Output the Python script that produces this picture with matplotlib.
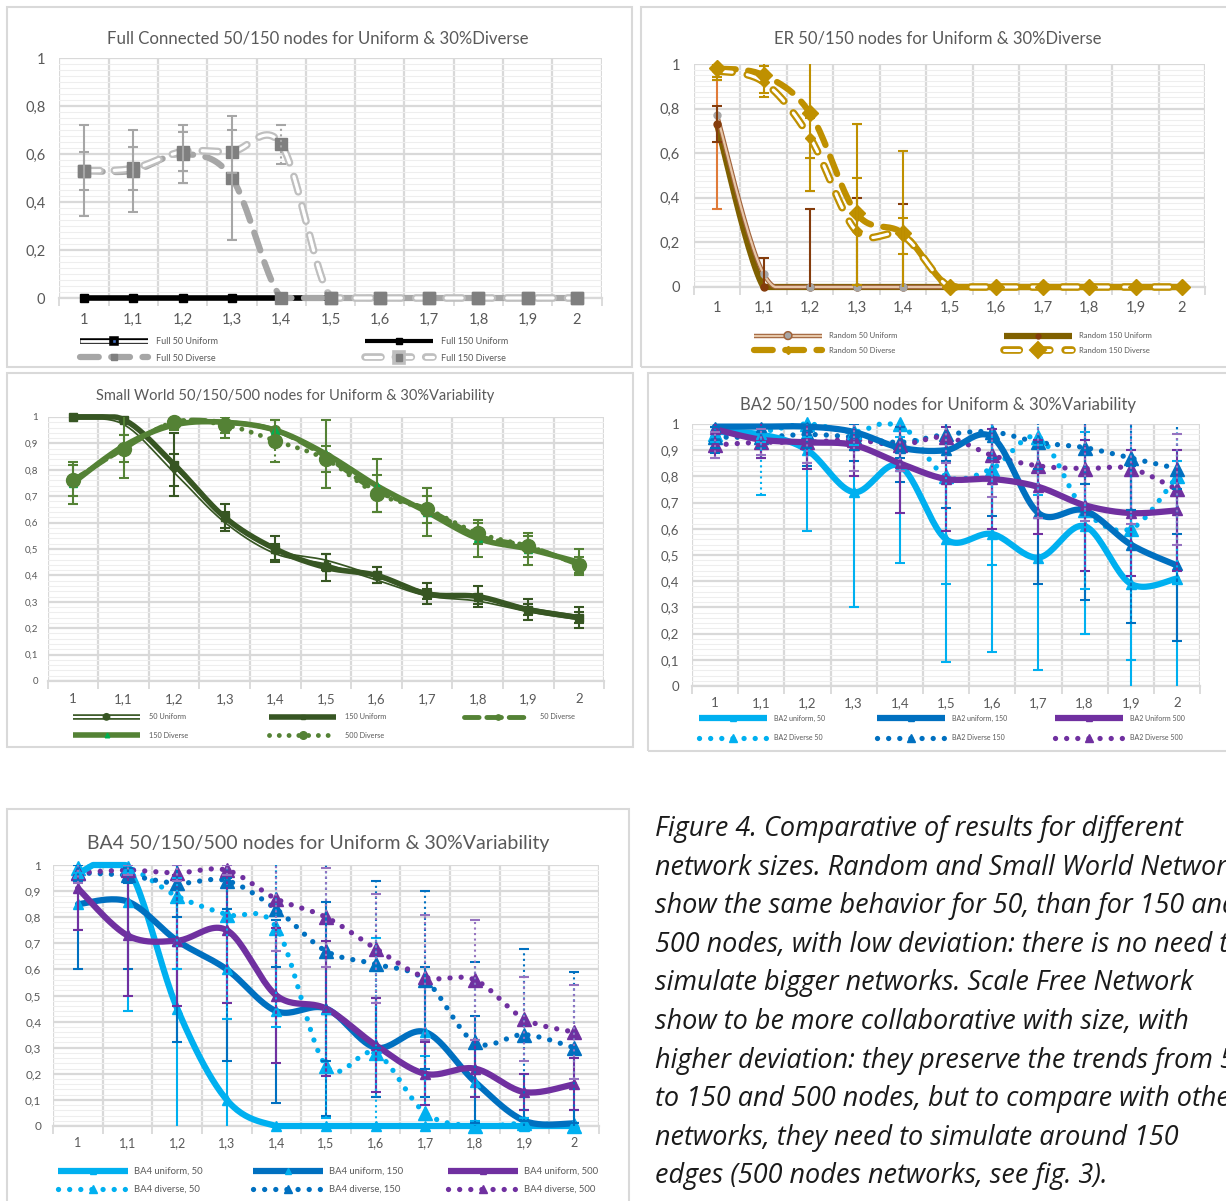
import numpy as np
import matplotlib
matplotlib.use("Agg")
import matplotlib.pyplot as plt
from matplotlib.lines import Line2D
from matplotlib.patches import Rectangle
import matplotlib.patheffects as pe

W, H = 1226, 1201
plt.rcParams['font.family'] = ['Lato', 'DejaVu Sans']

# ---------------- data ----------------
X = [1.0, 1.1, 1.2, 1.3, 1.4, 1.5, 1.6, 1.7, 1.8, 1.9, 2.0]
X_LABELS = ["1", "1,1", "1,2", "1,3", "1,4", "1,5", "1,6", "1,7", "1,8", "1,9", "2"]

# Full connected
full50_uniform = [0, 0, 0, 0, 0, 0, 0, 0, 0, 0, 0]
full150_uniform = [0, 0, 0, 0, 0, 0, 0, 0, 0, 0, 0]
full50_diverse = [0.53, 0.53, 0.60, 0.50, 0, 0, 0, 0, 0, 0, 0]
full150_diverse = [0.53, 0.54, 0.61, 0.61, 0.64, 0, 0, 0, 0, 0, 0]
full50_diverse_err = [0.19, 0.17, 0.12, 0.26, 0, 0, 0, 0, 0, 0, 0]
full150_diverse_err = [0.08, 0.09, 0.08, 0.09, 0.08, 0, 0, 0, 0, 0, 0]

# ER random
er50_uniform = [0.77, 0.06, 0, 0, 0, 0, 0, 0, 0, 0, 0]
er150_uniform = [0.73, 0, 0, 0, 0, 0, 0, 0, 0, 0, 0]
er50_diverse = [0.98, 0.95, 0.78, 0.33, 0.24, 0, 0, 0, 0, 0, 0]
er150_diverse = [0.97, 0.92, 0.67, 0.25, 0.23, 0, 0, 0, 0, 0, 0]
er50_uniform_err_lo = [0.42, 0, 0, 0, 0, 0, 0, 0, 0, 0, 0]
er50_uniform_err_hi = [0.16, 0, 0, 0, 0, 0, 0, 0, 0, 0, 0]
er150_uniform_err = [0.08, 0.13, 0.35, 0.40, 0.37, 0, 0, 0, 0, 0, 0]
er50_diverse_err = [0.05, 0.08, 0.35, 0.40, 0.37, 0, 0, 0, 0, 0, 0]
er150_diverse_err = [0.03, 0.07, 0.09, 0.24, 0.08, 0, 0, 0, 0, 0, 0]

# Small world
sw50_uniform = [1.00, 0.98, 0.80, 0.61, 0.49, 0.45, 0.39, 0.33, 0.31, 0.27, 0.24]
sw150_uniform = [1.00, 0.99, 0.82, 0.62, 0.50, 0.43, 0.40, 0.33, 0.32, 0.27, 0.24]
sw50_diverse = [0.76, 0.88, 0.98, 0.98, 0.95, 0.85, 0.72, 0.65, 0.55, 0.51, 0.44]
sw150_diverse = [0.75, 0.89, 0.97, 0.98, 0.95, 0.86, 0.74, 0.64, 0.54, 0.50, 0.45]
sw500_diverse = [0.76, 0.88, 0.98, 0.97, 0.91, 0.84, 0.71, 0.65, 0.56, 0.51, 0.44]
sw50_uniform_err = [0, 0, 0.06, 0.03, 0.03, 0.03, 0.02, 0.02, 0.02, 0.02, 0.02]
sw150_uniform_err = [0, 0.01, 0.12, 0.05, 0.05, 0.05, 0.03, 0.04, 0.04, 0.04, 0.04]
sw150_diverse_err = [0.08, 0.12, 0.02, 0.06, 0.04, 0.13, 0.10, 0.09, 0.07, 0.06, 0.05]
sw500_diverse_err = [0.06, 0.05, 0.02, 0.03, 0.08, 0.05, 0.07, 0.05, 0.04, 0.04, 0.03]

# BA2
ba2_u50 = [0.97, 0.96, 0.90, 0.74, 0.84, 0.56, 0.58, 0.49, 0.61, 0.39, 0.41]
ba2_u150 = [0.99, 0.99, 0.99, 0.97, 0.91, 0.90, 0.95, 0.66, 0.67, 0.54, 0.46]
ba2_u500 = [0.98, 0.94, 0.93, 0.92, 0.85, 0.79, 0.79, 0.76, 0.69, 0.66, 0.67]
ba2_d50 = [0.96, 0.97, 1.00, 0.97, 1.00, 0.80, 0.83, 0.95, 0.67, 0.60, 0.80]
ba2_d150 = [0.95, 0.95, 0.96, 0.95, 0.93, 0.96, 0.97, 0.93, 0.91, 0.87, 0.83]
ba2_d500 = [0.92, 0.93, 0.93, 0.94, 0.92, 0.95, 0.88, 0.84, 0.83, 0.83, 0.75]
ba2_u50_err = [0.02, 0.03, 0.31, 0.44, 0.37, 0.47, 0.45, 0.43, 0.41, 0.45, 0.45]
ba2_u150_err = [0.10, 0.12, 0.15, 0.11, 0.13, 0.22, 0.30, 0.27, 0.34, 0.30, 0.29]
ba2_u500_err = [0.11, 0.07, 0.10, 0.12, 0.19, 0.20, 0.19, 0.18, 0.25, 0.24, 0.23]
ba2_d50_err = [0.03, 0.24, 0.05, 0.05, 0.05, 0.41, 0.37, 0.22, 0.30, 0.50, 0.41]
ba2_d150_err = [0.04, 0.04, 0.05, 0.05, 0.06, 0.10, 0.10, 0.10, 0.14, 0.20, 0.25]
ba2_d500_err = [0.05, 0.05, 0.08, 0.12, 0.10, 0.10, 0.16, 0.20, 0.20, 0.21, 0.21]

# BA4
ba4_u50 = [0.97, 0.99, 0.45, 0.10, 0.0, 0.0, 0.0, 0.0, 0.0, 0.0, 0.0]
ba4_u150 = [0.85, 0.86, 0.71, 0.60, 0.44, 0.45, 0.30, 0.36, 0.17, 0.02, 0.01]
ba4_u500 = [0.91, 0.73, 0.71, 0.75, 0.50, 0.45, 0.31, 0.20, 0.22, 0.13, 0.16]
ba4_d50 = [0.99, 0.99, 0.88, 0.81, 0.76, 0.23, 0.28, 0.05, 0.0, 0.01, 0.0]
ba4_d150 = [0.97, 0.96, 0.93, 0.94, 0.83, 0.67, 0.62, 0.56, 0.32, 0.35, 0.30]
ba4_d500 = [0.97, 0.98, 0.97, 0.98, 0.87, 0.80, 0.68, 0.57, 0.56, 0.41, 0.36]
ba4_u50_err = [0.03, 0.55, 0.50, 0.31, 0, 0, 0, 0, 0, 0, 0]
ba4_u150_err = [0.25, 0.26, 0.39, 0.35, 0.35, 0.41, 0.19, 0.25, 0.25, 0.04, 0.05]
ba4_u500_err = [0.16, 0.23, 0.25, 0.28, 0.26, 0.26, 0.18, 0.12, 0.11, 0.07, 0.10]
ba4_d50_err = [0.02, 0.02, 0.28, 0.40, 0.38, 0.20, 0.44, 0.22, 0.02, 0.02, 0.01]
ba4_d150_err = [0.03, 0.03, 0.13, 0.11, 0.22, 0.42, 0.32, 0.34, 0.31, 0.33, 0.29]
ba4_d500_err = [0.04, 0.02, 0.03, 0.02, 0.20, 0.19, 0.21, 0.24, 0.23, 0.16, 0.18]

CAPTION = [
    "Figure 4. Comparative of results for different",
    "network sizes. Random and Small World Networks",
    "show the same behavior for 50, than for 150 and",
    "500 nodes, with low deviation: there is no need to",
    "simulate bigger networks. Scale Free Network",
    "show to be more collaborative with size, with",
    "higher deviation: they preserve the trends from 50",
    "to 150 and 500 nodes, but to compare with other",
    "networks, they need to simulate around 150",
    "edges (500 nodes networks, see fig. 3).",
]

# ---------------- helpers ----------------
fig = plt.figure(figsize=(W / 100, H / 100), dpi=100)
fig.patch.set_facecolor('white')
TXT = '#595959'


def frac(l, t, r, b):
    return [l / W, 1 - b / H, (r - l) / W, (b - t) / H]


def smooth(xs, ys, n=24):
    P = np.column_stack([np.asarray(xs, float), np.asarray(ys, float)])
    E = np.vstack([P[0], P, P[-1]])
    t = np.linspace(0, 1, n, endpoint=False)[:, None]
    out = []
    for i in range(len(P) - 1):
        p0, p1, p2, p3 = E[i], E[i + 1], E[i + 2], E[i + 3]
        c1 = p1 + (p2 - p0) / 6.0
        c2 = p2 - (p3 - p1) / 6.0
        seg = (1 - t) ** 3 * p1 + 3 * (1 - t) ** 2 * t * c1 + 3 * (1 - t) * t ** 2 * c2 + t ** 3 * p2
        out.append(seg)
    out.append(P[-1][None])
    S = np.vstack(out)
    return S[:, 0], S[:, 1]


def loose_clip(art, ax):
    art.set_clip_path(Rectangle((-0.01, -0.035), 1.02, 1.07, transform=ax.transAxes))


def style_axes(ax, major, minor, yfs, xfs, xpad, ypad):
    ax.set_xlim(0.95, 2.05)
    ax.set_ylim(0, 1)
    ax.set_xticks(X)
    ax.set_xticklabels(X_LABELS)
    ax.set_xticks([v - 0.05 for v in X] + [X[-1] + 0.05], minor=True)
    nmaj = int(round(1 / major))
    yt = [i * major for i in range(nmaj + 1)]
    ax.set_yticks(yt)
    ax.set_yticklabels(['{:g}'.format(round(v, 2)).replace('.', ',') for v in yt])
    nmin = int(round(1 / minor))
    ax.set_yticks([i * minor for i in range(nmin + 1)], minor=True)
    ax.tick_params(axis='x', which='major', length=0, labelsize=xfs, pad=xpad, labelcolor=TXT)
    ax.tick_params(axis='x', which='minor', length=6, width=1.3, color='#d9d9d9', direction='out')
    ax.tick_params(axis='y', which='both', length=0, labelsize=yfs, pad=ypad, labelcolor=TXT)
    ax.grid(which='minor', axis='y', color='#eeeeee', lw=0.8)
    ax.grid(which='major', axis='y', color='#d9d9d9', lw=1.6)
    ax.grid(which='minor', axis='x', color='#d9d9d9', lw=1.6)
    ax.set_axisbelow(True)
    for s in ['left', 'right', 'top']:
        ax.spines[s].set_visible(False)
    ax.spines['bottom'].set_color('#d9d9d9')
    ax.spines['bottom'].set_linewidth(1.6)


def add_series(ax, ys, color, lw, ls='-', marker=None, ms=0, mfc=None, mec=None,
               outline=None, z=3, lms=None):
    xs = np.asarray(X, float)
    ys = np.asarray(ys, float)
    cx, cy = smooth(xs, ys)
    cy = np.clip(cy, 0, 1)
    eff = [pe.Stroke(linewidth=outline[1], foreground=outline[0]), pe.Normal()] if outline else None
    ln, = ax.plot(cx, cy, color=color, lw=lw, ls=ls, zorder=z, dash_capstyle='round',
                  solid_capstyle='round', path_effects=eff)
    loose_clip(ln, ax)
    fc = mfc or color
    ec = mec or fc
    if marker:
        mk, = ax.plot(xs, ys, ls='none', marker=marker, ms=ms, mfc=fc, mec=ec, zorder=z + 0.5)
        loose_clip(mk, ax)
    return Line2D([], [], color=color, lw=lw, ls=ls, marker=marker,
                  ms=(lms if lms is not None else ms * 0.55), mfc=fc, mec=ec,
                  dash_capstyle='round', solid_capstyle='butt', path_effects=eff)


def add_err(ax, ys, err, color, ls='-', lw=1.5, cap=3.8, z=6, err_hi=None):
    xs = np.asarray(X, float)
    ys = np.asarray(ys, float)
    lo = np.asarray(err, float)
    hi = np.asarray(err_hi, float) if err_hi is not None else lo
    m = (lo > 0) | (hi > 0)
    eb = ax.errorbar(xs[m], ys[m], yerr=[lo[m], hi[m]], fmt='none', ecolor=color,
                     elinewidth=lw, capsize=cap, capthick=lw, zorder=z)
    if ls != '-':
        eb[2][0].set_linestyle(ls)


def col_legend(items, left_px, row1_px, fs, handle_px, pad_px, row_px):
    fs_px = fs * 100 / 72.0
    fig.legend([h for h, _ in items], [l for _, l in items], loc='upper left',
               bbox_to_anchor=(left_px / W, 1 - (row1_px - 0.62 * fs_px) / H),
               bbox_transform=fig.transFigure, frameon=False, fontsize=fs,
               handlelength=handle_px / fs_px, handletextpad=pad_px / fs_px,
               labelspacing=(row_px - 1.2 * fs_px) / fs_px, borderpad=0, borderaxespad=0,
               labelcolor=TXT, numpoints=1)


def frame(l, t, r, b):
    fig.add_artist(Rectangle((l / W, 1 - b / H), (r - l) / W, (b - t) / H, transform=fig.transFigure,
                             fill=False, edgecolor='#d9d9d9', lw=1.5))


def title(text, cx, cy, fs):
    fig.text(cx / W, 1 - cy / H, text, ha='center', va='center', fontsize=fs, color=TXT)


# ---------------- frames ----------------
frame(7, 7, 632, 367)
frame(641, 7, 1240, 367)
frame(7, 373, 633, 747)
frame(648, 373, 1240, 751)
frame(7, 809, 629, 1215)

# ---------------- panel 1: Full connected ----------------
ax1 = fig.add_axes(frac(59.3, 58, 601.7, 298))
style_axes(ax1, 0.2, 0.025, 10.5, 10.5, 10.5, 10)
title("Full Connected 50/150 nodes for Uniform & 30%Diverse", 318, 39, 12.1)
h1a = add_series(ax1, full50_uniform, 'white', 2.0, outline=('black', 4.0), marker='s', ms=5,
                 mfc='#4472c4', mec='black', z=3)
h1b = add_series(ax1, full150_uniform, 'black', 3.0, marker='s', ms=6, z=3.2, lms=5)
h1c = add_series(ax1, full50_diverse, '#a6a6a6', 4.5, ls=(0, (3, 2)), marker='s', ms=9,
                 mfc='#7f7f7f', z=4, lms=5)
h1d = add_series(ax1, full150_diverse, 'white', 2.3, ls=(0, (5, 4.5)), outline=('#bfbfbf', 5.5),
                 marker='s', ms=9, mfc='#7f7f7f', z=4.2, lms=5)
add_err(ax1, full50_diverse, full50_diverse_err, '#a6a6a6')
add_err(ax1, full150_diverse, full150_diverse_err, '#a6a6a6', ls=':')
col_legend([(h1a, 'Full 50 Uniform'), (h1c, 'Full 50 Diverse')], 80, 343, 6.5, 68, 8, 18)
col_legend([(h1b, 'Full 150 Uniform'), (h1d, 'Full 150 Diverse')], 365, 343, 6.5, 68, 8, 18)

# ---------------- panel 2: ER ----------------
ax2 = fig.add_axes(frac(693.75, 64, 1205.25, 287))
style_axes(ax2, 0.2, 0.025, 10.5, 10.5, 10, 10)
title("ER 50/150 nodes for Uniform & 30%Diverse", 938, 39, 12)
h2a = add_series(ax2, er50_uniform, '#e6c7a9', 1.6, outline=('#a0623a', 3.2), marker='o', ms=5,
                 mfc='#a6a6a6', z=3.4, lms=3.5)
h2b = add_series(ax2, er150_uniform, '#7f6000', 4.5, marker='o', ms=5, mfc='#843c0c', z=3.2, lms=3.5)
h2c = add_series(ax2, er50_diverse, '#bf9000', 4.5, ls=(0, (3, 2)), marker='D', ms=8, z=4, lms=4)
h2d = add_series(ax2, er150_diverse, 'white', 2.2, ls=(0, (5, 5)), outline=('#bf9000', 5.5),
                 marker='D', ms=5, mfc='#bf9000', z=4.2, lms=4)
add_err(ax2, er50_uniform, er50_uniform_err_lo, '#e07b39', err_hi=er50_uniform_err_hi)
add_err(ax2, er150_uniform, er150_uniform_err, '#843c0c')
add_err(ax2, er50_diverse, er50_diverse_err, '#bf9000')
add_err(ax2, er150_diverse, er150_diverse_err, '#bf9000', ls=':')
col_legend([(h2a, 'Random 50 Uniform'), (h2c, 'Random 50 Diverse')], 754, 337, 5.5, 68, 7, 17)
col_legend([(h2b, 'Random 150 Uniform'), (h2d, 'Random 150 Diverse')], 1004, 337, 5.5, 68, 7, 17)

# ---------------- panel 3: Small world ----------------
ax3 = fig.add_axes(frac(47.7, 417, 604.3, 681))
style_axes(ax3, 0.1, 0.02, 7, 9.5, 8.5, 7)
title("Small World 50/150/500 nodes for Uniform & 30%Variability", 295, 396, 10.5)
DG, MG = '#375623', '#548235'
h3a = add_series(ax3, sw50_uniform, 'white', 1.5, outline=(DG, 4.0), marker='o', ms=3, mfc=DG, z=3)
h3b = add_series(ax3, sw150_uniform, DG, 4.0, marker='s', ms=6, z=3.2)
h3c = add_series(ax3, sw50_diverse, MG, 3.5, ls=(0, (3, 1.6)), marker='o', ms=7, z=3.4)
h3d = add_series(ax3, sw150_diverse, MG, 4.0, marker='^', ms=6, mfc='#00b050', z=3.6)
h3e = add_series(ax3, sw500_diverse, MG, 3.5, ls=(0, (0.01, 2.0)), marker='o', ms=10, z=3.8)
add_err(ax3, sw50_uniform, sw50_uniform_err, DG)
add_err(ax3, sw150_uniform, sw150_uniform_err, DG)
add_err(ax3, sw150_diverse, sw150_diverse_err, MG)
add_err(ax3, sw500_diverse, sw500_diverse_err, MG, ls=':')
col_legend([(h3a, '50 Uniform'), (h3d, '150 Diverse')], 73, 718, 5.3, 67, 9, 20)
col_legend([(h3b, '150 Uniform'), (h3e, '500 Diverse')], 269, 718, 5.3, 67, 9, 20)
col_legend([(h3c, '50 Diverse')], 464, 718, 5.3, 67, 9, 20)

# ---------------- panel 4: BA2 ----------------
LB, BL, PU = '#00b0f0', '#0070c0', '#7030a0'
DOT = (0, (0.01, 2.1))
ax4 = fig.add_axes(frac(691.9, 424, 1200.1, 686))
style_axes(ax4, 0.1, 0.02, 9.5, 9.5, 8, 9)
title("BA2 50/150/500 nodes for Uniform & 30%Variability", 938, 405, 12.1)
h4d = add_series(ax4, ba2_d50, LB, 3.8, ls=DOT, marker='^', ms=10, z=3.0)
h4e = add_series(ax4, ba2_d150, BL, 3.8, ls=DOT, marker='^', ms=10, z=3.1)
h4f = add_series(ax4, ba2_d500, PU, 3.8, ls=DOT, marker='^', ms=10, z=3.2)
h4a = add_series(ax4, ba2_u50, LB, 4.5, marker='^', ms=7, z=3.5)
h4b = add_series(ax4, ba2_u150, BL, 4.5, marker='^', ms=7, z=3.6)
h4c = add_series(ax4, ba2_u500, PU, 4.5, marker='^', ms=7, z=3.7)
add_err(ax4, ba2_u50, ba2_u50_err, LB)
add_err(ax4, ba2_u150, ba2_u150_err, BL)
add_err(ax4, ba2_u500, ba2_u500_err, PU)
add_err(ax4, ba2_d50, ba2_d50_err, LB, ls=':')
add_err(ax4, ba2_d150, ba2_d150_err, BL, ls=':')
add_err(ax4, ba2_d500, ba2_d500_err, '#9673c0', ls=':')
col_legend([(h4a, 'BA2 uniform, 50'), (h4d, 'BA2 Diverse 50')], 699, 719, 5.0, 68, 7, 21)
col_legend([(h4b, 'BA2 uniform, 150'), (h4e, 'BA2 Diverse 150')], 877, 719, 5.0, 68, 7, 21)
col_legend([(h4c, 'BA2 Uniform 500'), (h4f, 'BA2 Diverse 500')], 1055, 719, 5.0, 68, 7, 21)

# ---------------- panel 5: BA4 ----------------
ax5 = fig.add_axes(frac(53.2, 865, 598.8, 1126))
style_axes(ax5, 0.1, 0.02, 8.5, 9, 8, 8.5)
title("BA4 50/150/500 nodes for Uniform & 30%Variability", 318, 844, 14)
h5d = add_series(ax5, ba4_d50, LB, 3.8, ls=DOT, marker='^', ms=10, z=3.0)
h5e = add_series(ax5, ba4_d150, BL, 3.8, ls=DOT, marker='^', ms=10, z=3.1)
h5f = add_series(ax5, ba4_d500, PU, 3.8, ls=DOT, marker='^', ms=10, z=3.2)
h5a = add_series(ax5, ba4_u50, LB, 4.5, marker='^', ms=7, z=3.5)
h5b = add_series(ax5, ba4_u150, BL, 4.5, marker='^', ms=7, mfc=LB, z=3.6)
h5c = add_series(ax5, ba4_u500, PU, 4.5, marker='^', ms=7, z=3.7)
add_err(ax5, ba4_u50, ba4_u50_err, LB)
add_err(ax5, ba4_u150, ba4_u150_err, BL)
add_err(ax5, ba4_u500, ba4_u500_err, PU)
add_err(ax5, ba4_d50, ba4_d50_err, LB, ls=':')
add_err(ax5, ba4_d150, ba4_d150_err, BL, ls=':')
add_err(ax5, ba4_d500, ba4_d500_err, '#9673c0', ls=':')
col_legend([(h5a, 'BA4 uniform, 50'), (h5d, 'BA4 diverse, 50')], 58, 1173, 6.8, 70, 6, 20)
col_legend([(h5b, 'BA4 uniform, 150'), (h5e, 'BA4 diverse, 150')], 253, 1173, 6.8, 70, 6, 20)
col_legend([(h5c, 'BA4 uniform, 500'), (h5f, 'BA4 diverse, 500')], 448, 1173, 6.8, 70, 6, 20)

# ---------------- caption ----------------
cap_fs = 17.0
probe = fig.text(0, 0, CAPTION[0], fontsize=cap_fs, fontstyle='italic', family=['Open Sans', 'DejaVu Sans'])
fig.canvas.draw()
wpx = probe.get_window_extent(fig.canvas.get_renderer()).width
probe.remove()
cap_fs = cap_fs * 528.0 / wpx
for i, line in enumerate(CAPTION):
    fig.text(655 / W, 1 - (829 + i * 38.6) / H, line, ha='left', va='center',
             fontsize=cap_fs, fontstyle='italic', color='#1a1a1a',
             family=['Open Sans', 'DejaVu Sans'])

fig.savefig('out.png', dpi=100, facecolor='white')
